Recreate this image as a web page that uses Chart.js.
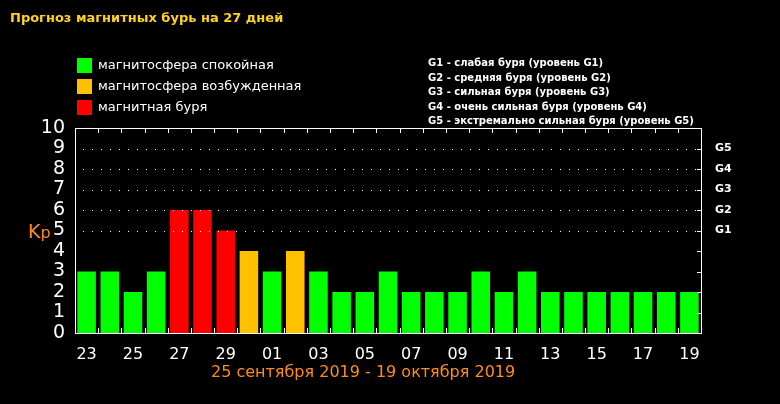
<!DOCTYPE html>
<html><head><meta charset="utf-8">
<script src="https://cdn.jsdelivr.net/npm/chart.js@4"></script>
<style>
body{margin:0;background:#000;width:780px;height:404px;overflow:hidden;font-family:'DejaVu Sans',sans-serif;}
#wrap{position:relative;width:780px;height:404px;}
canvas{position:absolute;left:0;top:0;}
.t{position:absolute;white-space:nowrap;}
.sq{position:absolute;width:15px;height:15px;}
</style></head><body>
<div id="wrap">
<canvas id="c" width="780" height="404"></canvas>
<div class="t" style="left:10px;top:10px;color:#ffd21f;font-weight:bold;font-size:13px;">Прогноз магнитных бурь на 27 дней</div>
<div class="sq" style="left:77px;top:58px;background:#00ff00"></div>
<div class="t" style="left:98px;top:57px;color:#fff;font-size:13px;">магнитосфера спокойная</div>
<div class="sq" style="left:77px;top:79px;background:#ffc000"></div>
<div class="t" style="left:98px;top:78px;color:#fff;font-size:13px;">магнитосфера возбужденная</div>
<div class="sq" style="left:77px;top:100px;background:#ff0000"></div>
<div class="t" style="left:98px;top:99px;color:#fff;font-size:13px;">магнитная буря</div>
<div class="t" style="left:428px;top:56px;color:#fff;font-weight:bold;font-size:10px;line-height:14.5px;">
G1 - слабая буря (уровень G1)<br>G2 - средняя буря (уровень G2)<br>G3 - сильная буря (уровень G3)<br>G4 - очень сильная буря (уровень G4)<br>G5 - экстремально сильная буря (уровень G5)</div>
<div class="t" style="left:28px;top:220px;color:#ff8c1a;font-size:19px;">K<span style="font-size:16px">p</span></div>
<div class="t" style="left:211px;top:362px;color:#ff8c1a;font-size:16px;">25 сентября 2019 - 19 октября 2019</div>
</div>
<script>
'use strict';

const days = ['23','24','25','26','27','28','29','30','01','02','03','04','05','06','07','08','09','10','11','12','13','14','15','16','17','18','19'];
const kp = [3,3,2,3,6,6,5,4,3,4,3,2,2,3,2,2,2,3,2,3,2,2,2,2,2,2,2];
const yTicks = ['0','1','2','3','4','5','6','7','8','9','10'];
const gLabels = {5:'G1', 6:'G2', 7:'G3', 8:'G4', 9:'G5'};

const barColor = v => v >= 5 ? '#ff0000' : (v >= 4 ? '#ffc000' : '#00ff00');

// frame, inward ticks and dotted storm-level lines
const framePlugin = {
    id: 'frame',
    afterDatasetsDraw(chart) {
        const { ctx, chartArea: a, scales: { x, y } } = chart;
        ctx.save();
        ctx.fillStyle = '#fff';
        for (let v = 5; v <= 9; v++) {
            const py = Math.round(y.getPixelForValue(v));
            for (let px = a.left + 8; px < a.right - 2; px += 9) ctx.fillRect(px, py, 1, 1);
        }
        ctx.strokeStyle = '#fff';
        ctx.lineWidth = 1;
        ctx.strokeRect(a.left + 0.5, a.top + 0.5, a.right - a.left, a.bottom - a.top);
        ctx.beginPath();
        for (let i = 1; i < days.length; i++) {
            const px = Math.round((x.getPixelForValue(i - 1) + x.getPixelForValue(i)) / 2) + 0.5;
            ctx.moveTo(px, a.top); ctx.lineTo(px, a.top + 5);
            ctx.moveTo(px, a.bottom); ctx.lineTo(px, a.bottom - 5);
        }
        for (let v = 1; v < 10; v++) {
            const py = Math.round(y.getPixelForValue(v)) + 0.5;
            ctx.moveTo(a.right, py); ctx.lineTo(a.right - 4, py);
        }
        ctx.stroke();
        ctx.restore();
    }
};

new Chart(document.getElementById('c'), {
    type: 'bar',
    data: {
        labels: days,
        datasets: [{
            data: kp,
            backgroundColor: kp.map(barColor),
            barPercentage: 0.8, categoryPercentage: 1,
        }],
    },
    options: {
        responsive: false, animation: false,
        layout: { padding: { top: 128, bottom: 38, left: 0, right: 0 } },
        plugins: { legend: { display: false }, tooltip: { enabled: false } },
        scales: {
            x: {
                grid: { display: false }, border: { display: false },
                ticks: {
                    color: '#fff', font: { family: 'DejaVu Sans', size: 16 }, maxRotation: 0, autoSkip: false,
                    callback: (v, i) => i % 2 === 0 ? days[i] : '', padding: 4,
                },
                afterFit: s => { s.height = 33; },
            },
            y: {
                min: 0, max: 10,
                grid: { display: false }, border: { display: false },
                ticks: {
                    stepSize: 1, autoSkip: false, color: '#fff',
                    font: { family: 'DejaVu Sans', size: 19, lineHeight: 1 }, padding: 2,
                    callback: v => yTicks[v],
                },
                afterFit: s => { s.width = 75; },
            },
            y2: {
                position: 'right', min: 0, max: 10,
                grid: { display: false }, border: { display: false },
                ticks: {
                    stepSize: 1, autoSkip: false, color: '#fff',
                    font: { family: 'DejaVu Sans', size: 11, weight: 'bold', lineHeight: 1 }, padding: 6,
                    callback: v => gLabels[v] || '',
                },
                afterFit: s => { s.width = 79; },
            },
        },
    },
    plugins: [framePlugin],
});
</script>
</body></html>
